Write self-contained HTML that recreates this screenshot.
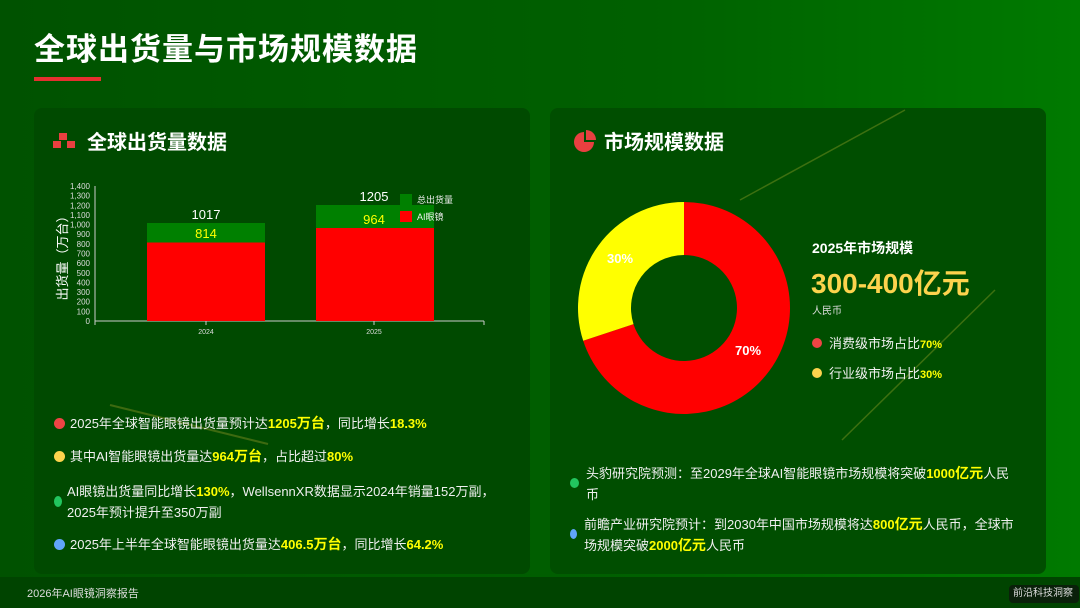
<!DOCTYPE html>
<html><head><meta charset="utf-8"><style>
*{margin:0;padding:0;box-sizing:border-box}
body{width:1080px;height:608px;overflow:hidden;position:relative;font-family:"Liberation Sans","Noto Sans CJK SC",sans-serif;color:#fff;background:linear-gradient(90deg,#005200 0%,#006000 60%,#007a00 100%)}
.t{position:absolute;left:34px;top:24px;font-size:31px;font-weight:bold;letter-spacing:1px}
.ul{position:absolute;left:34px;top:77px;width:67px;height:4px;background:#e53030}
.p{position:absolute;top:108px;width:496px;height:466px;border-radius:8px;background:#004a00}
.h{position:absolute;font-size:20px;font-weight:bold}
.li{position:absolute;font-size:13px;line-height:21px;color:#f0f0f0}
.y{color:#ffff00;font-weight:bold}
.yb{color:#ffff00;font-weight:bold;font-size:14px}
.d{position:absolute;width:11px;height:11px;border-radius:50%}
.ft{position:absolute;left:0;top:577px;width:1080px;height:31px;background:#004400}
</style></head><body>
<div class="t">全球出货量与市场规模数据</div>
<div class="ul"></div>
<div class="p" style="left:34px"></div>
<div class="p" style="left:550px;background:#004e00"></div>
<svg style="position:absolute;left:0;top:0" width="1080" height="608">
<line x1="110" y1="405" x2="268" y2="444" stroke="#3d6a10" stroke-width="2"/>
<line x1="740" y1="200" x2="905" y2="110" stroke="#3d7010" stroke-width="1.5"/>
<line x1="842" y1="440" x2="995" y2="290" stroke="#3d7010" stroke-width="1.5"/>
<g fill="#e84040"><rect x="53" y="141" width="8" height="7"/><rect x="59" y="133" width="8" height="7"/><rect x="67" y="141" width="8" height="7"/></g>
<path d="M584,142 L584,132 A10,10 0 1,0 594,142 Z" fill="#e84040"/><path d="M586,130 A10,10 0 0,1 596,140 L586,140Z" fill="#e84040"/>
<g stroke="#ccc" stroke-width="1" fill="none">
<line x1="95" y1="186" x2="95" y2="321"/>
<line x1="95" y1="321" x2="484" y2="321"/>
<line x1="484" y1="321" x2="484" y2="325"/>
<line x1="95" y1="321" x2="95" y2="325"/>
<line x1="206" y1="321" x2="206" y2="325"/>
<line x1="374" y1="321" x2="374" y2="325"/>
</g>
<g font-size="8" fill="#ddd" text-anchor="end" font-family="Liberation Sans,sans-serif">
<text x="90" y="324">0</text><text x="90" y="314.4">100</text><text x="90" y="304.7">200</text><text x="90" y="295">300</text><text x="90" y="285.4">400</text><text x="90" y="275.8">500</text><text x="90" y="266.1">600</text><text x="90" y="256.5">700</text><text x="90" y="246.8">800</text><text x="90" y="237.2">900</text><text x="90" y="227.6">1,000</text><text x="90" y="217.9">1,100</text><text x="90" y="208.3">1,200</text><text x="90" y="198.6">1,300</text><text x="90" y="189">1,400</text>
</g>
<text transform="translate(67,255) rotate(-90)" font-size="13" fill="#fff" text-anchor="middle">出货量（万台）</text>
<rect x="147" y="223" width="118" height="20" fill="#008000"/>
<rect x="147" y="242.5" width="118" height="78.5" fill="#ff0000"/>
<rect x="316" y="205" width="118" height="23" fill="#008000"/>
<rect x="316" y="228" width="118" height="93" fill="#ff0000"/>
<text x="206" y="219" font-size="13" fill="#fff" text-anchor="middle">1017</text>
<text x="206" y="238" font-size="13" fill="#ffff00" text-anchor="middle">814</text>
<text x="374" y="201" font-size="13" fill="#fff" text-anchor="middle">1205</text>
<text x="374" y="224" font-size="13" fill="#ffff00" text-anchor="middle">964</text>
<rect x="400" y="194" width="12" height="11" fill="#008000"/>
<rect x="400" y="211" width="12" height="11" fill="#ff0000"/>
<text x="417" y="203" font-size="9" fill="#eee">总出货量</text>
<text x="417" y="220" font-size="9" fill="#eee">AI眼镜</text>
<text x="206" y="334" font-size="7" fill="#ddd" text-anchor="middle">2024</text>
<text x="374" y="334" font-size="7" fill="#ddd" text-anchor="middle">2025</text>
<path d="M684,202 A106,106 0 1,1 583.2,340.8 L633.5,324.1 A53,53 0 1,0 684,255 Z" fill="#ff0000"/>
<path d="M583.2,340.8 A106,106 0 0,1 684,202 L684,255 A53,53 0 0,0 633.5,324.1 Z" fill="#ffff00"/>
<text x="620" y="263" font-size="13" font-weight="bold" fill="#fff" text-anchor="middle">30%</text>
<text x="748" y="355" font-size="13" font-weight="bold" fill="#fff" text-anchor="middle">70%</text>
</svg>
<div class="h" style="left:87px;top:126px">全球出货量数据</div>
<div class="h" style="left:604px;top:126px">市场规模数据</div>
<div class="d" style="left:54px;top:418px;background:#ef4444"></div>
<div class="li" style="left:70px;top:413px">2025年全球智能眼镜出货量预计达<span class="y">1205</span><span class="yb">万台</span>，同比增长<span class="y">18.3%</span></div>
<div class="d" style="left:54px;top:451px;background:#fcd34d"></div>
<div class="li" style="left:70px;top:446px">其中AI智能眼镜出货量达<span class="y">964</span><span class="yb">万台</span>，占比超过<span class="y">80%</span></div>
<div class="d" style="left:54px;top:496px;width:8px;height:11px;background:#22c55e"></div>
<div class="li" style="left:67px;top:481px">AI眼镜出货量同比增长<span class="y">130%</span>，WellsennXR数据显示2024年销量152万副，<br>2025年预计提升至350万副</div>
<div class="d" style="left:54px;top:539px;background:#60a5fa"></div>
<div class="li" style="left:70px;top:534px">2025年上半年全球智能眼镜出货量达<span class="y">406.5</span><span class="yb">万台</span>，同比增长<span class="y">64.2%</span></div>
<div style="position:absolute;left:812px;top:238px;font-size:14px;font-weight:bold">2025年市场规模</div>
<div style="position:absolute;left:811px;top:262px;font-size:28px;font-weight:bold;color:#fcd34d">300-400亿元</div>
<div style="position:absolute;left:812px;top:302px;font-size:10px;color:#ddd">人民币</div>
<div class="d" style="left:812px;top:338px;width:10px;height:10px;background:#ef4444"></div>
<div class="li" style="left:829px;top:333px">消费级市场占比<span class="y" style="font-size:11px">70%</span></div>
<div class="d" style="left:812px;top:368px;width:10px;height:10px;background:#fcd34d"></div>
<div class="li" style="left:829px;top:363px">行业级市场占比<span class="y" style="font-size:11px">30%</span></div>
<div class="d" style="left:570px;top:478px;width:9px;height:10px;background:#22c55e"></div>
<div class="li" style="left:586px;top:463px">头豹研究院预测：至2029年全球AI智能眼镜市场规模将突破<span class="y">1000</span><span class="yb">亿元</span>人民<br>币</div>
<div class="d" style="left:570px;top:529px;width:7px;height:10px;background:#60a5fa"></div>
<div class="li" style="left:584px;top:514px">前瞻产业研究院预计：到2030年中国市场规模将达<span class="y">800</span><span class="yb">亿元</span>人民币，全球市<br>场规模突破<span class="y">2000</span><span class="yb">亿元</span>人民币</div>
<div class="ft"></div>
<div style="position:absolute;left:27px;top:585px;font-size:11px;color:#ddd">2026年AI眼镜洞察报告</div>
<div style="position:absolute;left:1009px;top:585px;width:70px;height:18px;border-radius:4px;background:#0a200a;font-size:10px;color:#ddd;line-height:18px;padding-left:4px">前沿科技洞察</div>
</body></html>
